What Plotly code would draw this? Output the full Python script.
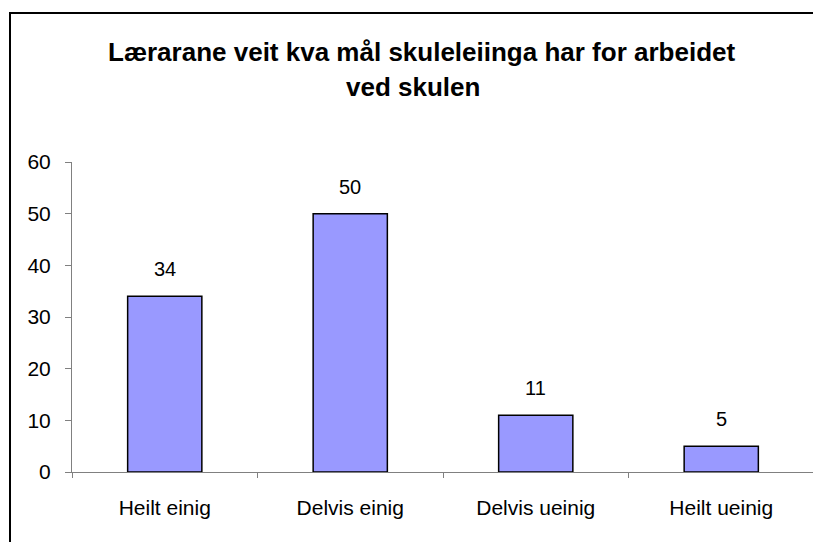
import plotly.graph_objects as go

categories = ["Heilt einig", "Delvis einig", "Delvis ueinig", "Heilt ueinig"]
values = [34, 50, 11, 5]
y_ticks = [0, 10, 20, 30, 40, 50, 60]
title_lines = ["Lærarane veit kva mål skuleleiinga har for arbeidet", "ved skulen"]

# page body has an 8px margin, so the figure is offset by 8px
OFF = 8
W, H = 821 - OFF, 542 - OFF
L, R, T, B = 72 - OFF, 7, 162 - OFF, 70
pw, ph = W - L - R, H - T - B

FONT = "Liberation Sans, Arial"

fig = go.Figure()
fig.add_trace(go.Bar(
    x=categories, y=values, width=0.4,
    marker=dict(color="#9999FF", line=dict(color="#000000", width=1.5)),
    hoverinfo="skip",
))

for c, v in zip(categories, values):
    fig.add_annotation(x=c, y=v, text=str(v), showarrow=False, yanchor="bottom",
                       yshift=14, font=dict(family=FONT, size=20, color="#000"))

fig.add_annotation(xref="paper", yref="paper", x=(421 - OFF - L) / pw, y=1 + (T - (52 - OFF)) / ph,
                   text="<b>" + title_lines[0] + "</b>", showarrow=False,
                   xanchor="center", yanchor="middle",
                   font=dict(family=FONT, size=26, color="#000"))
fig.add_annotation(xref="paper", yref="paper", x=(413 - OFF - L) / pw, y=1 + (T - (87 - OFF)) / ph,
                   text="<b>" + title_lines[1] + "</b>", showarrow=False,
                   xanchor="center", yanchor="middle",
                   font=dict(family=FONT, size=26, color="#000"))

# outer frame (left and top edges visible)
fx = (10 - OFF - L) / pw
fy = 1 + (T - (13 - OFF)) / ph
fx_end = (W - L) / pw
fy_end = -B / ph
fig.add_shape(type="path", xref="paper", yref="paper",
              path=f"M {fx} {fy_end} L {fx} {fy} L {fx_end} {fy}",
              line=dict(color="#000", width=2))

fig.update_layout(
    width=W, height=H,
    margin=dict(l=L, r=R, t=T, b=B),
    paper_bgcolor="white", plot_bgcolor="white",
    showlegend=False,
    font=dict(family=FONT, size=21, color="#000"),
    bargap=0.6,
)
fig.update_xaxes(
    showline=True, linecolor="#808080", linewidth=1,
    ticks="outside", ticklen=5, tickcolor="#808080", tickson="boundaries",
    showgrid=False, ticklabelstandoff=17,
    tickfont=dict(size=21),
)
fig.update_yaxes(
    range=[0, 60], tickvals=y_ticks, showline=True, linecolor="#808080", linewidth=1,
    ticks="outside", ticklen=6, tickcolor="#808080", showgrid=False, zeroline=False,
    ticklabelstandoff=10, tickfont=dict(size=21),
)

fig.write_html("out.html", config={"displayModeBar": False})
